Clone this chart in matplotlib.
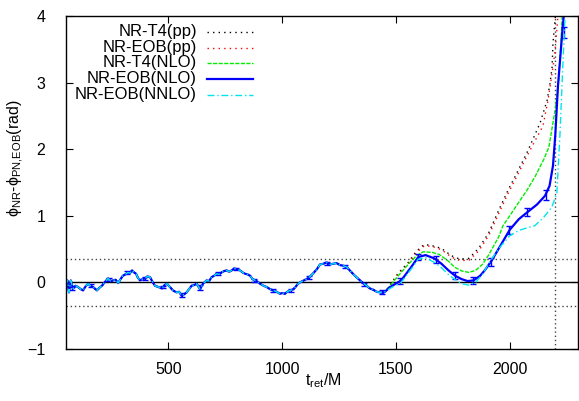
import matplotlib.pyplot as plt

plt.rcParams['font.family'] = ['Liberation Sans', 'DejaVu Sans']
plt.rcParams['mathtext.fontset'] = 'custom'
plt.rcParams['mathtext.rm'] = 'Liberation Sans'

# shared early part (all curves lie on top of each other before ~1450 M)
t_common = [50, 56, 63, 71, 81, 92, 103, 114, 125, 136, 147, 158, 169, 186, 197, 208, 222,
            235, 246, 257, 268, 279, 290, 300, 311, 322, 331, 340, 349, 358, 366, 375,
            386, 397, 408, 419, 430, 441, 456, 472, 483, 494, 507, 520, 536, 547, 558,
            569, 580, 591, 602, 613, 624, 639, 652, 668, 679, 690, 701, 712, 723, 734,
            745, 756, 767, 778, 789, 800, 815, 826, 837, 848, 859, 870, 881, 892, 903,
            918, 932, 946, 961, 975, 990, 1001, 1012, 1023, 1034, 1045, 1056, 1067, 1078,
            1095, 1113, 1126, 1140, 1153, 1166, 1181, 1196, 1210, 1224, 1239, 1254, 1269,
            1284, 1297, 1311, 1326, 1342, 1356, 1371, 1385, 1400, 1415, 1430, 1441, 1452]
y_common = [-0.05, 0.03, -0.15, 0.03, -0.09, -0.05, -0.07, -0.10, -0.12, -0.06, -0.02,
            -0.05, -0.07, -0.12, -0.08, -0.05, 0.01, 0.06, 0.02, 0.03, 0.04, -0.01, 0.05,
            0.10, 0.12, 0.15, 0.14, 0.18, 0.15, 0.13, 0.07, 0.03, 0.05, 0.06, 0.09, 0.08,
            0.01, -0.05, -0.07, -0.09, -0.04, -0.02, -0.07, -0.12, -0.15, -0.14, -0.20,
            -0.18, -0.15, -0.10, -0.05, -0.04, -0.02, -0.10, -0.02, 0.03, 0.02, 0.08,
            0.10, 0.13, 0.12, 0.15, 0.17, 0.18, 0.16, 0.18, 0.21, 0.20, 0.18, 0.15, 0.13,
            0.12, 0.10, 0.05, 0.03, 0.01, -0.02, -0.05, -0.07, -0.10, -0.12, -0.14,
            -0.17, -0.16, -0.17, -0.14, -0.12, -0.11, -0.08, -0.03, 0.00, 0.03, 0.06,
            0.10, 0.15, 0.20, 0.27, 0.28, 0.30, 0.27, 0.28, 0.29, 0.26, 0.25, 0.23,
            0.18, 0.13, 0.08, 0.03, -0.01, -0.05, -0.09, -0.11, -0.14, -0.15, -0.16, -0.14]

# late parts, one per curve
t_t4pp = [1474, 1510, 1554, 1590, 1625, 1660, 1700, 1744, 1780, 1820, 1863, 1907, 1951,
          1992, 2022, 2076, 2133, 2164, 2177, 2186, 2190, 2199, 2206]
y_t4pp = [-0.04, 0.14, 0.30, 0.47, 0.57, 0.55, 0.51, 0.40, 0.35, 0.36, 0.51, 0.74, 1.08,
          1.38, 1.58, 1.95, 2.39, 2.73, 2.99, 3.23, 3.59, 3.93, 4.20]

t_eobpp = [1474, 1510, 1554, 1590, 1625, 1660, 1700, 1744, 1780, 1820, 1863, 1907, 1951,
           1992, 2022, 2076, 2146, 2168, 2190, 2200, 2208, 2214]
y_eobpp = [-0.05, 0.12, 0.28, 0.45, 0.55, 0.54, 0.49, 0.38, 0.33, 0.33, 0.47, 0.70, 1.03,
           1.33, 1.53, 1.90, 2.35, 2.73, 3.23, 3.50, 3.83, 4.10]

t_t4nlo = [1474, 1510, 1554, 1590, 1620, 1660, 1690, 1730, 1757, 1790, 1820, 1850, 1880,
           1907, 1951, 1970, 2000, 2039, 2075, 2110, 2150, 2172, 2190, 2200, 2215, 2225, 2232]
y_t4nlo = [-0.05, 0.10, 0.27, 0.40, 0.46, 0.45, 0.42, 0.32, 0.23, 0.17, 0.15, 0.18, 0.27,
           0.41, 0.68, 0.85, 1.00, 1.20, 1.38, 1.58, 1.85, 2.03, 2.40, 2.60, 3.03, 3.60, 4.10]

t_eobnlo = [1474, 1523, 1567, 1598, 1630, 1669, 1700, 1731, 1760, 1788, 1815, 1841, 1870,
            1890, 1921, 1964, 2000, 2040, 2076, 2120, 2155, 2175, 2190, 2200, 2212, 2225,
            2232, 2240]
y_eobnlo = [-0.07, 0.03, 0.23, 0.38, 0.41, 0.36, 0.28, 0.18, 0.10, 0.05, 0.02, 0.03, 0.10,
            0.18, 0.33, 0.58, 0.79, 0.95, 1.05, 1.17, 1.30, 1.45, 1.75, 2.20, 2.95, 3.50,
            3.80, 4.10]

t_eobnnlo = [1474, 1523, 1567, 1598, 1630, 1669, 1700, 1730, 1757, 1788, 1819, 1850, 1880,
             1907, 1950, 2000, 2040, 2076, 2110, 2150, 2185, 2207, 2221, 2230, 2243, 2250]
y_eobnnlo = [-0.09, 0.00, 0.20, 0.35, 0.37, 0.30, 0.22, 0.12, 0.05, -0.02, -0.04, 0.00,
             0.12, 0.28, 0.50, 0.70, 0.78, 0.82, 0.85, 0.98, 1.13, 1.34, 2.24, 2.99, 3.99, 4.20]

# error bars on NR-EOB(NLO)
err_t = [78, 158, 238, 318, 398, 478, 558, 638, 718, 798, 878, 958, 1038, 1118, 1198,
         1278, 1358, 1438, 1518, 1598, 1678, 1758, 1838, 1918, 1998, 2078, 2158, 2238]
err_y = [-0.09, -0.05, 0.04, 0.15, 0.06, -0.07, -0.19, -0.08, 0.13, 0.20, 0.03, -0.12,
         -0.12, 0.07, 0.28, 0.24, -0.03, -0.15, 0.02, 0.38, 0.34, 0.10, 0.03, 0.31, 0.78,
         1.05, 1.31, 3.75]
err_size = [0.02, 0.02, 0.02, 0.02, 0.02, 0.02, 0.03, 0.04, 0.02, 0.02, 0.02, 0.02, 0.02,
            0.02, 0.02, 0.02, 0.02, 0.03, 0.04, 0.04, 0.05, 0.05, 0.05, 0.06, 0.06, 0.06,
            0.07, 0.08]

band = 0.35
t_merger = 2200

labels = ['NR-T4(pp)', 'NR-EOB(pp)', 'NR-T4(NLO)', 'NR-EOB(NLO)', 'NR-EOB(NNLO)']
colors = ['black', '#ff0000', '#00ee00', '#0000ff', '#00e5ee']
styles = [(0, (1, 3)), (0, (1, 3)), (0, (3, 1)), '-', (0, (5, 2, 1, 2))]
widths = [1.0, 1.0, 1.0, 1.6, 1.0]
tails = [(t_t4pp, y_t4pp), (t_eobpp, y_eobpp), (t_t4nlo, y_t4nlo),
         (t_eobnlo, y_eobnlo), (t_eobnnlo, y_eobnnlo)]

fig = plt.figure(figsize=(5.79, 4.01), dpi=100)
ax = fig.add_axes([66/579, 1-349/401, 512/579, 333/401])

# reference lines
ax.axhline(0, color='black', lw=1.0)
ax.axhline(band, color='#444444', lw=1.0, ls=(0, (1, 2)))
ax.axhline(-band, color='#444444', lw=1.0, ls=(0, (1, 2)))
ax.axvline(t_merger, color='#444444', lw=1.0, ls=(0, (1, 2)))

for (tt, yy), c, s, w in zip(tails, colors, styles, widths):
    ax.plot(t_common + tt, y_common + yy, color=c, ls=s, lw=w)
    if c == '#0000ff':
        ax.errorbar(err_t, err_y, yerr=err_size, fmt='none', ecolor=c,
                    elinewidth=1.0, capsize=2.5, capthick=1.0)

ax.set_xlim(50, 2300)
ax.set_ylim(-1, 4)
ax.set_xticks([500, 1000, 1500, 2000])
ax.set_yticks([-1, 0, 1, 2, 3, 4])
ax.tick_params(direction='in', top=True, right=True, length=5, width=0.8,
               labelsize=11.5)
ax.tick_params(axis='x', pad=9)
ax.tick_params(axis='y', pad=15)
for sp in ax.spines.values():
    sp.set_linewidth(1.0)

# gnuplot-style key: text right-aligned, sample on the right
rows = [0.952, 0.905, 0.859, 0.811, 0.763]
for lab, c, s, w, yr in zip(labels, colors, styles, widths, rows):
    ax.text(0.256, yr, lab, transform=ax.transAxes, ha='right', va='center',
            fontsize=12)
    ax.plot([0.275, 0.365], [yr, yr], transform=ax.transAxes, color=c, ls=s, lw=w)

fig.text(16/579, 1-158/401, r'$\mathregular{\phi_{NR}}$-$\mathregular{\phi_{PN{,}EOB}}$(rad)',
         rotation=90, ha='center', va='center', fontsize=11.5)
fig.text(323/579, 1-381/401, r'$\mathregular{t_{ret}}$/M', ha='center', va='center',
         fontsize=11.5)

fig.savefig('out.png', dpi=100)
